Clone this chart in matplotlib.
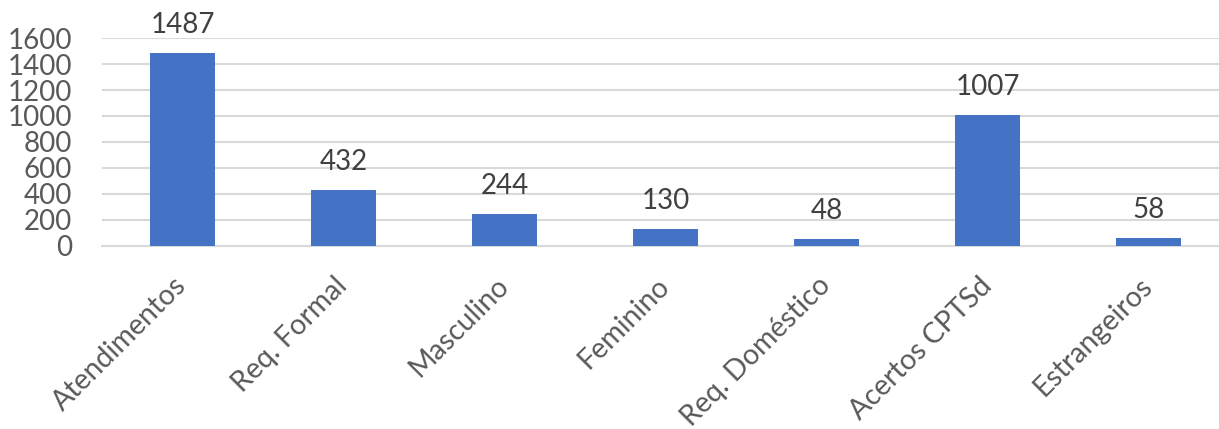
import matplotlib
matplotlib.use("Agg")
from matplotlib import pyplot as plt
import numpy as np

# dados do gráfico
categorias = ['Atendimentos', 'Req. Formal', 'Masculino', 'Feminino',
              'Req. Doméstico', 'Acertos CPTSd', 'Estrangeiros']
valores = [1487, 432, 244, 130, 48, 1007, 58]
yticks = [0, 200, 400, 600, 800, 1000, 1200, 1400, 1600]

plt.rcParams['font.family'] = ['Lato', 'DejaVu Sans']

fig = plt.figure(figsize=(12.19, 4.29), dpi=100)
ax = fig.add_axes([102 / 1219, (429 - 245.5) / 429, (1229 - 102) / 1219, (245.5 - 38.3) / 429])

x = np.arange(len(categorias))
ax.bar(x, valores, width=0.40, color='#4472C4', zorder=3)

for xi, v in zip(x, valores):
    ax.annotate(str(v), (xi, v), xytext=(0, 14.4), textcoords='offset points',
                ha='center', va='baseline', fontsize=20, color='#404040',
                annotation_clip=False)

ax.set_xlim(-0.5, len(categorias) - 0.5)
ax.set_ylim(0, 1600)
ax.set_yticks(yticks)
ax.grid(axis='y', color='#D9D9D9', linewidth=1.5, zorder=0)
for s in ['top', 'right', 'left']:
    ax.spines[s].set_visible(False)
ax.spines['bottom'].set_color('#D9D9D9')
ax.spines['bottom'].set_linewidth(1.5)

ax.set_xticks(x)
ax.set_xticklabels(categorias)
plt.setp(ax.get_xticklabels(), rotation=45, ha='right', va='center',
         rotation_mode='anchor')
ax.tick_params(axis='x', length=0, pad=26, labelsize=20.5, labelcolor='#595959')
ax.tick_params(axis='y', length=0, pad=21.6, labelsize=20, labelcolor='#595959')

fig.savefig('out.png', dpi=100)
